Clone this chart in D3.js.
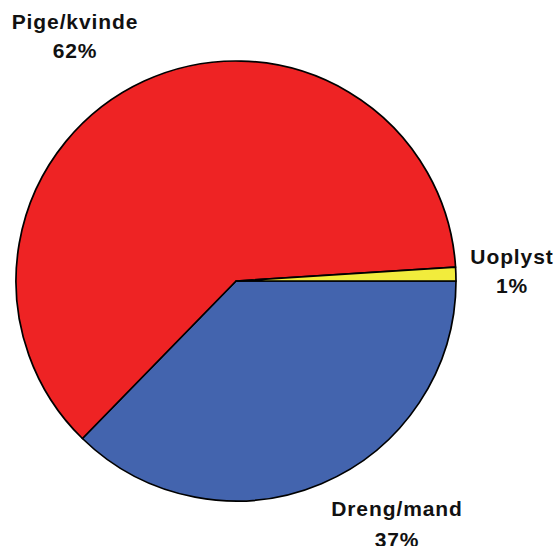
<!DOCTYPE html>
<html>
<head>
<meta charset="utf-8">
<script src="https://cdn.jsdelivr.net/npm/d3@7"></script>
<style>
  body { margin: 0; background: #fff; }
  text { font-family: "Liberation Sans", Arial, sans-serif; font-weight: bold; }
</style>
</head>
<body>
<div class="pieChart"></div>
<script>
// kategorier og andele i procent
var categories = ["Dreng/mand", "Pige/kvinde", "Uoplyst"];
var values = [37.3, 61.7, 1.0];
var labels = ["37%", "62%", "1%"];
var colors = ["#4364ae", "#ee2324", "#f2ec3c"];

function init(){
    var w = 556;
    var h = 546;
    var cx = 236, cy = 281, r = 220;

    var svg = d3.select(".pieChart")
                .append("svg")
                .attr("width", w)
                .attr("height", h);

    var pie = d3.pie()
                .sort(null)
                .startAngle(Math.PI / 2)
                .endAngle(Math.PI / 2 + 2 * Math.PI);

    var arc = d3.arc().innerRadius(0).outerRadius(r);

    var g = svg.append("g").attr("transform", "translate(" + cx + "," + cy + ")");

    g.selectAll("path")
        .data(pie(values))
        .enter()
        .append("path")
        .attr("d", arc)
        .attr("fill", function(d, i){ return colors[i]; })
        .attr("stroke", "#000")
        .attr("stroke-width", 1.7)
        .attr("stroke-linejoin", "round");

    // label positions (text anchor centre, first baseline, line gap)
    var labelPos = [[397, 516, 31], [75, 29, 29], [512, 264, 29]];

    var lab = svg.selectAll("text.lab")
        .data(categories)
        .enter()
        .append("text")
        .attr("class", "lab")
        .attr("text-anchor", "middle")
        .attr("font-size", 21)
        .attr("letter-spacing", 0.9)
        .attr("fill", "#111");

    lab.append("tspan")
        .attr("x", function(d, i){ return labelPos[i][0]; })
        .attr("y", function(d, i){ return labelPos[i][1]; })
        .text(function(d){ return d; });

    lab.append("tspan")
        .attr("x", function(d, i){ return labelPos[i][0]; })
        .attr("y", function(d, i){ return labelPos[i][1] + labelPos[i][2]; })
        .text(function(d, i){ return labels[i]; });
}
window.onload = init;
</script>
</body>
</html>
